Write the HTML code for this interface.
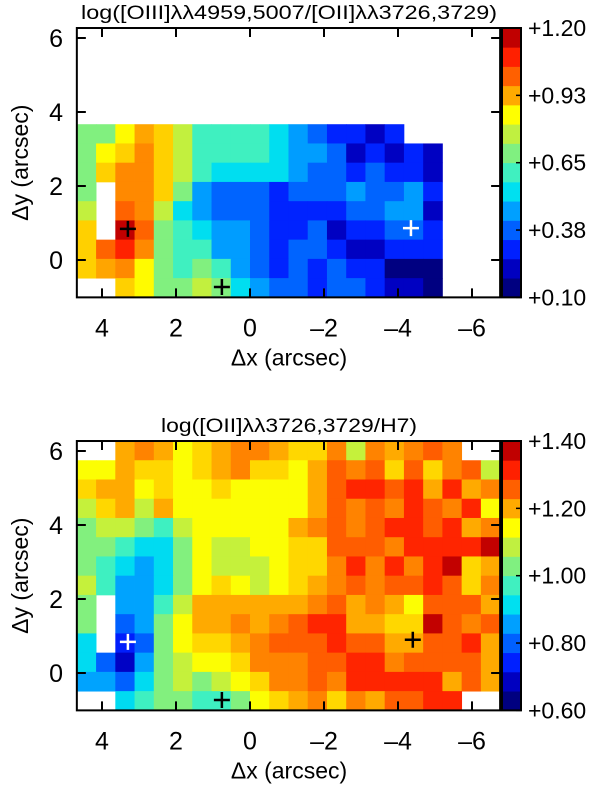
<!DOCTYPE html>
<html><head><meta charset="utf-8"><style>
html,body{margin:0;padding:0;background:#fff}
svg{display:block;font-family:"Liberation Sans",Arial,sans-serif}
</style></head><body>
<svg id="fig" width="600" height="790" viewBox="0 0 600 790" xmlns="http://www.w3.org/2000/svg"></svg>
<script>
// ---- data ----
const xTicks = [4, 2, 0, -2, -4, -6];
const yTicks = [6, 4, 2, 0];
const gridX0 = 4.68, gridY0 = 6.27, cellSize = 0.52;
const nCols = 22, nRows = 14;
const n = null;
const topTitle = "log([OIII]\u03bb\u03bb4959,5007/[OII]\u03bb\u03bb3726,3729)";
const botTitle = "log([OII]\u03bb\u03bb3726,3729/H7)";
const topRange = [0.10, 1.20];
const botRange = [0.60, 1.40];
const topCbLabels = ["+0.10", "+0.38", "+0.65", "+0.93", "+1.20"];
const botCbLabels = ["+0.60", "+0.80", "+1.00", "+1.20", "+1.40"];
const topValues = [
[n,n,n,n,n,n,n,n,n,n,n,n,n,n,n,n,n,n,n,n,n,n],
[n,n,n,n,n,n,n,n,n,n,n,n,n,n,n,n,n,n,n,n,n,n],
[n,n,n,n,n,n,n,n,n,n,n,n,n,n,n,n,n,n,n,n,n,n],
[n,n,n,n,n,n,n,n,n,n,n,n,n,n,n,n,n,n,n,n,n,n],
[n,n,n,n,n,n,n,n,n,n,n,n,n,n,n,n,n,n,n,n,n,n],
[.69,.69,.85,.93,.89,.77,.61,.61,.61,.61,.53,.45,.38,.30,.30,.22,.30,n,n,n,n,n],
[.69,.85,.89,.96,.89,.77,.61,.61,.61,.61,.53,.45,.45,.38,.22,.30,.22,.30,.22,n,n,n],
[.69,.89,.96,.96,.89,.77,.61,.53,.53,.53,.53,.45,.38,.38,.30,.38,.30,.30,.22,n,n,n],
[.69,n,.96,.96,.89,.69,.45,.38,.38,.38,.30,.38,.38,.38,.45,.38,.38,.45,.30,n,n,n],
[.77,n,1.00,.96,.77,.53,.45,.38,.38,.38,.30,.30,.30,.30,.38,.38,.45,.45,.22,n,n,n],
[.89,n,1.16,1.00,.69,.61,.53,.45,.45,.38,.30,.30,.38,.22,.30,.30,.38,.38,.30,n,n,n],
[.89,1.00,1.08,.96,.69,.61,.61,.45,.45,.38,.30,.38,.38,.30,.22,.22,.30,.30,.30,n,n,n],
[.89,.93,.96,.85,.69,.61,.69,.61,.45,.38,.30,.38,.30,.38,.30,.30,.14,.14,.14,n,n,n],
[n,n,.89,.85,.69,.69,.77,.69,.53,.45,.38,.38,.30,.38,.38,.30,.22,.22,.14,n,n,n]
];
const botValues = [
[n,n,1.20,1.23,1.20,1.14,1.17,1.20,1.23,1.23,1.20,1.17,1.17,1.23,1.09,1.23,1.20,1.23,1.26,1.23,n,n],
[1.14,1.14,1.20,1.17,1.17,1.14,1.17,1.20,1.23,1.17,1.17,1.14,1.20,1.26,1.23,1.26,1.17,1.26,1.17,1.23,1.26,1.09],
[1.17,1.20,1.20,1.14,1.17,1.14,1.14,1.17,1.14,1.14,1.14,1.14,1.20,1.26,1.31,1.31,1.26,1.31,1.20,1.31,1.20,1.23],
[1.09,1.17,1.20,1.09,1.20,1.14,1.14,1.14,1.14,1.14,1.14,1.14,1.20,1.26,1.23,1.26,1.23,1.31,1.26,1.23,1.31,1.14],
[1.03,1.09,1.09,1.03,.97,1.09,1.14,1.14,1.14,1.14,1.14,1.20,1.23,1.26,1.23,1.26,1.31,1.31,1.26,1.31,1.20,1.23],
[1.03,1.03,.97,.91,.91,1.03,1.14,1.09,1.09,1.14,1.14,1.17,1.17,1.26,1.26,1.26,1.23,1.31,1.31,1.31,1.31,1.37],
[1.03,.97,.91,.86,.91,1.03,1.14,1.09,1.09,1.09,1.14,1.17,1.17,1.23,1.31,1.23,1.31,1.23,1.31,1.37,1.17,1.20],
[1.09,.97,.86,.86,.91,1.03,1.14,1.17,1.14,1.09,1.14,1.17,1.20,1.23,1.26,1.23,1.26,1.26,1.31,1.26,1.17,1.23],
[1.03,n,.86,.86,.97,1.09,1.20,1.20,1.20,1.20,1.20,1.20,1.23,1.26,1.20,1.23,1.20,1.14,1.26,1.26,1.26,1.20],
[1.03,n,.80,.86,1.03,1.14,1.20,1.20,1.23,1.20,1.23,1.26,1.31,1.31,1.20,1.20,1.17,1.17,1.37,1.26,1.23,1.26],
[.91,n,.74,.80,1.03,1.14,1.17,1.17,1.20,1.23,1.26,1.26,1.26,1.31,1.26,1.26,1.20,1.20,1.26,1.26,1.31,1.20],
[.91,.80,.69,.86,1.03,1.09,1.14,1.14,1.17,1.23,1.23,1.23,1.26,1.26,1.31,1.31,1.23,1.26,1.26,1.26,1.26,1.20],
[.86,.86,.80,.91,1.03,1.09,1.03,1.09,1.14,1.17,1.23,1.23,1.26,1.23,1.31,1.31,1.31,1.31,1.31,1.20,1.26,1.20],
[n,n,.91,.97,1.03,1.03,.97,.97,1.03,1.14,1.17,1.20,1.23,1.17,1.23,1.20,1.26,1.26,1.31,1.31,n,n]
];
const topMarkersX = [3.3, 0.76, -4.35];
const topMarkersY = [0.84, -0.73, 0.86];
const topMarkersC = ["#000", "#000", "#fff"];
const botMarkersX = [3.3, 0.76, -4.4];
const botMarkersY = [0.84, -0.73, 0.90];
const botMarkersC = ["#fff", "#000", "#000"];
const palette = ['#000080','#0000c0','#0020ff','#0060ff','#00a0ff','#00e0f0','#40f0c0','#80f080','#c0f040','#ffff00','#ffaa00','#ff6000','#ff2000','#c00000'];

// ---- helpers ----
const NS = "http://www.w3.org/2000/svg";
const svg = document.getElementById('fig');
function mk(tag, attrs, parent) {
  const e = document.createElementNS(NS, tag);
  for (const k in attrs) e.setAttribute(k, attrs[k]);
  (parent || svg).appendChild(e);
  return e;
}
function hex(h){return [parseInt(h.substr(1,2),16),parseInt(h.substr(3,2),16),parseInt(h.substr(5,2),16)];}
function colorFor(t) {
  const nb = palette.length;
  let p = t * nb - 0.5;
  if (p <= 0) return palette[0];
  if (p >= nb - 1) return palette[nb - 1];
  const i = Math.floor(p), f = p - i;
  const a = hex(palette[i]), b = hex(palette[i + 1]);
  return 'rgb(' + a.map((v, k) => Math.round(v + (b[k] - v) * f)).join(',') + ')';
}
const xPx = x => 250 - 37 * x;
const frameL = xPx(gridX0), frameR = xPx(gridX0 - nCols * cellSize);

function panel(off, values, range, title, cbLabels, mx, my, mc, name, tLen) {
  const yPx = y => off + 260 - 37 * y;
  const frameT = yPx(gridY0), frameB = yPx(gridY0 - nRows * cellSize);
  const g = mk('g', {});
  
  
  const t = mk('text', {x: 289, y: off + 19, 'font-size': 19, 'text-anchor': 'middle', textLength: tLen, lengthAdjust: 'spacingAndGlyphs'}, g);
  
  
  t.textContent = title;
  const cells = mk('g', {}, g);
  
  
  for (let r = 0; r < values.length; r++) for (let c = 0; c < values[r].length; c++) {
    const v = values[r][c];
    if (v === null) continue;
    const x0 = xPx(gridX0 - c * cellSize), x1 = xPx(gridX0 - (c + 1) * cellSize);
    const y0 = yPx(gridY0 - r * cellSize), y1 = yPx(gridY0 - (r + 1) * cellSize);
    const rc = mk('rect', {x: x0, y: y0, width: x1 - x0 + 0.4, height: y1 - y0 + 0.4,
      fill: colorFor((v - range[0]) / (range[1] - range[0]))}, cells);
    
    
  }
  for (let i = 0; i < mx.length; i++) {
    const cx = xPx(mx[i]), cy = yPx(my[i]);
    const m = mk('path', {d: `M${cx-8},${cy}H${cx+8}M${cx},${cy-8}V${cy+8}`, stroke: mc[i], 'stroke-width': 2.5}, g);
    
    
  }
  const fr = mk('rect', {x: frameL, y: frameT, width: frameR - frameL, height: frameB - frameT, fill: 'none', stroke: '#000', 'stroke-width': 2}, g);
  
  
  xTicks.forEach(v => {
    const px = xPx(v);
    mk('path', {d: `M${px},${frameB}v-9M${px},${frameT}v9`, stroke: '#000', 'stroke-width': 2}, g);
    const l = mk('text', {x: px, y: frameB + 39, 'font-size': 25, 'text-anchor': 'middle'}, g);
    
    
    l.textContent = v < 0 ? '\u2013' + (-v) : String(v);
  });
  yTicks.forEach(v => {
    const py = yPx(v);
    mk('path', {d: `M${frameL},${py}h9M${frameR},${py}h-9`, stroke: '#000', 'stroke-width': 2}, g);
    const l = mk('text', {x: 63, y: py + 9, 'font-size': 25, 'text-anchor': 'end'}, g);
    
    
    l.textContent = String(v);
  });
  const xt = mk('text', {x: 289, y: frameB + 68, 'font-size': 23, 'text-anchor': 'middle'}, g);
  
  
  xt.textContent = '\u0394x (arcsec)';
  const ymid = (frameT + frameB) / 2;
  const yt = mk('text', {x: 0, y: 0, 'font-size': 23, 'text-anchor': 'middle', transform: `translate(28,${ymid}) rotate(-90)`}, g);
  
  
  yt.textContent = '\u0394y (arcsec)';
  const cb = mk('g', {}, g);
  
  
  const nb = palette.length, bh = (frameB - frameT) / nb;
  for (let i = 0; i < nb; i++) {
    const br = mk('rect', {x: 502, y: frameB - (i + 1) * bh, width: 19, height: bh + 0.4, fill: palette[i]}, cb);
    
    
  }
  mk('rect', {x: 502, y: frameT, width: 19, height: frameB - frameT, fill: 'none', stroke: '#000', 'stroke-width': 2}, cb);
  cbLabels.forEach((s, i) => {
    const py = frameB - i * (frameB - frameT) / (cbLabels.length - 1);
    mk('path', {d: `M521,${py}h-5`, stroke: '#000', 'stroke-width': 1.5}, cb);
    const l = mk('text', {x: 528, y: py + 8, 'font-size': 23}, cb);
    
    
    l.textContent = s;
  });
}
panel(0, topValues, topRange, topTitle, topCbLabels, topMarkersX, topMarkersY, topMarkersC, 'oiii-oii', 416);
panel(413, botValues, botRange, botTitle, botCbLabels, botMarkersX, botMarkersY, botMarkersC, 'oii-h7', 256);
</script>
</body></html>
